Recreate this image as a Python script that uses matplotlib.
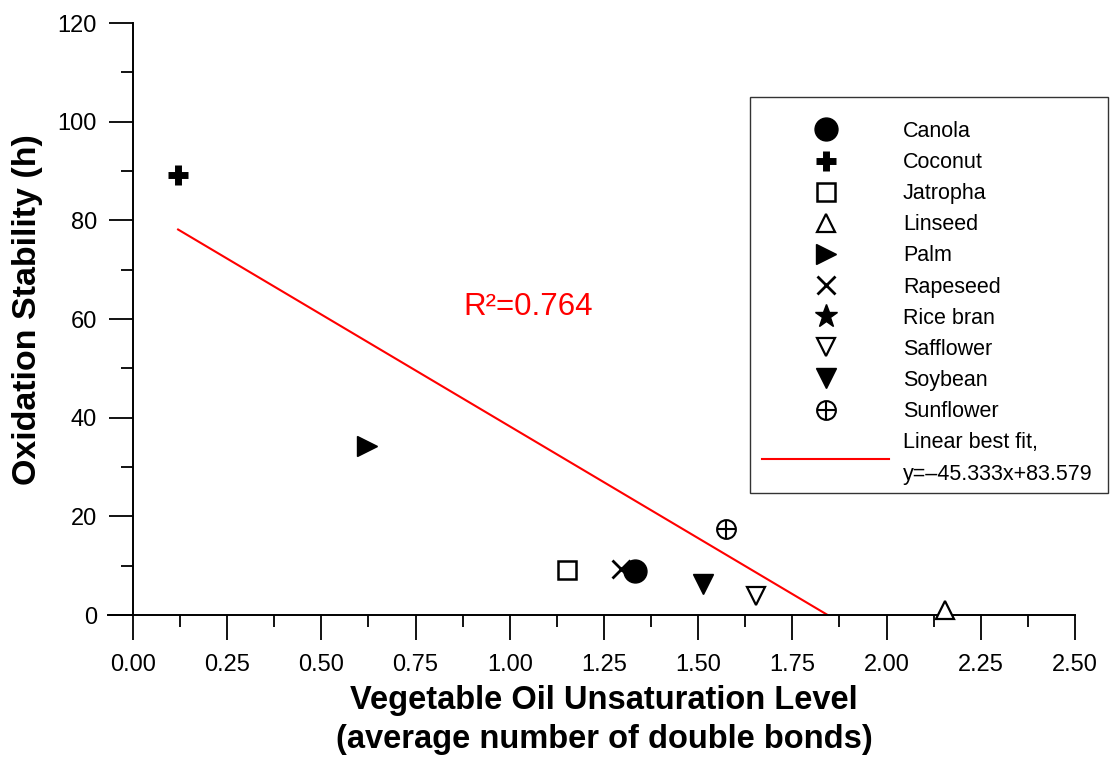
import matplotlib
matplotlib.use("Agg")
import matplotlib.pyplot as plt
from matplotlib.ticker import MultipleLocator, FormatStrFormatter
from matplotlib.legend_handler import HandlerTuple
from matplotlib.patches import Rectangle

plt.rcParams['font.family'] = ['Liberation Sans', 'DejaVu Sans']

oils = ["Canola", "Coconut", "Jatropha", "Linseed", "Palm", "Rapeseed",
        "Rice bran", "Safflower", "Soybean", "Sunflower"]
unsat = [1.332, 0.12, 1.152, 2.154, 0.62, 1.295, None, 1.654, 1.513, 1.574]
stability = [8.9, 89.2, 9.1, 1.0, 34.3, 9.3, None, 3.9, 6.3, 17.4]

fit_slope = -45.333
fit_intercept = 83.579
fit_x = [0.12, 1.8437]
r2_text = "R\u00b2=0.764"
fit_label = "Linear best fit,\ny=\u201345.333x+83.579"

styles = {
    "Canola": [dict(marker='o', mfc='black', ms=16.5, mew=1, zorder=5)],
    "Coconut": [dict(marker='+', ms=14.5, mew=5)],
    "Jatropha": [dict(marker='s', mfc='white', ms=13.5, mew=1.8)],
    "Linseed": [dict(marker='^', mfc='white', ms=13.5, mew=1.6)],
    "Palm": [dict(marker='>', mfc='black', ms=14.5, mew=1)],
    "Rapeseed": [dict(marker='x', ms=13.5, mew=2.0)],
    "Rice bran": [dict(marker='*', mfc='black', ms=17, mew=1)],
    "Safflower": [dict(marker='v', mfc='white', ms=13.5, mew=1.6)],
    "Soybean": [dict(marker='v', mfc='black', ms=14, mew=1)],
    "Sunflower": [dict(marker='o', mfc='white', ms=13.5, mew=1.5),
                  dict(marker='+', ms=13.5, mew=1.5)],
}

fig = plt.figure(figsize=(11.10, 7.57), dpi=100)
ax = fig.add_axes([108/1110, 1-615/757, (1075-108)/1110, (615-23)/757])

handles = []
labels = []
for name, x, y in zip(oils, unsat, stability):
    parts = []
    for st in styles[name]:
        st = dict(st)
        z = st.pop('zorder', 3)
        xs = [] if x is None else [x]
        ys = [] if y is None else [y]
        h, = ax.plot(xs, ys, linestyle='none', color='black', mec='black',
                     zorder=z, clip_on=False, **st)
        parts.append(h)
    handles.append(tuple(parts) if len(parts) > 1 else parts[0])
    labels.append(name)

fit_y = [fit_slope * v + fit_intercept for v in fit_x]
lf, = ax.plot(fit_x, fit_y, color='red', lw=1.5)
handles.append(lf)
labels.append(fit_label)

ax.text(0.878, 62.4, r2_text, color='red', fontsize=22.5, va='center', ha='left')

ax.set_xlim(-0.066, 2.5)
ax.set_ylim(0, 120)
ax.spines['top'].set_visible(False)
ax.spines['right'].set_visible(False)
ax.spines['left'].set_position(('data', 0))
for s in ('left', 'bottom'):
    ax.spines[s].set_linewidth(1.4)

ax.set_xticks([i * 0.25 for i in range(11)])
ax.xaxis.set_minor_locator(MultipleLocator(0.125))
ax.xaxis.set_major_formatter(FormatStrFormatter('%.2f'))
ax.yaxis.set_major_locator(MultipleLocator(20))
ax.yaxis.set_minor_locator(MultipleLocator(10))
ax.tick_params(which='major', direction='out', width=1.3, labelsize=17)
ax.tick_params(axis='x', which='major', length=18, pad=10)
ax.tick_params(axis='y', which='major', length=17, pad=9)
ax.tick_params(which='minor', direction='out', length=8.5, width=1.3)

ax.set_ylabel("Oxidation Stability (h)", fontsize=24.5, fontweight='bold')
ax.yaxis.label.set_va('center')
ax.yaxis.set_label_coords((28-108)/967, (615-310)/592)
fig.text(604/1110, 1-720/757,
         "Vegetable Oil Unsaturation Level\n(average number of double bonds)",
         ha='center', va='center', fontsize=23.5, fontweight='bold', linespacing=1.3)

# legend box frame
fig.patches.append(Rectangle((750/1110, 1-493/757), (1108-750)/1110, (493-97)/757,
                             transform=fig.transFigure, fill=False,
                             edgecolor='#333333', linewidth=1.0, zorder=10))

leg = ax.legend(handles=handles, labels=labels, loc='upper left',
                bbox_to_anchor=(762/1110, 1-121/757),
                bbox_transform=fig.transFigure, borderaxespad=0,
                fontsize=15.5, frameon=False, handlelength=5.9,
                handletextpad=0.65, labelspacing=0.47, borderpad=0,
                numpoints=1, handler_map={tuple: HandlerTuple(ndivide=1, pad=0)})
for t in leg.get_texts():
    t.set_linespacing(1.65)

fig.savefig("out.png", dpi=100)
